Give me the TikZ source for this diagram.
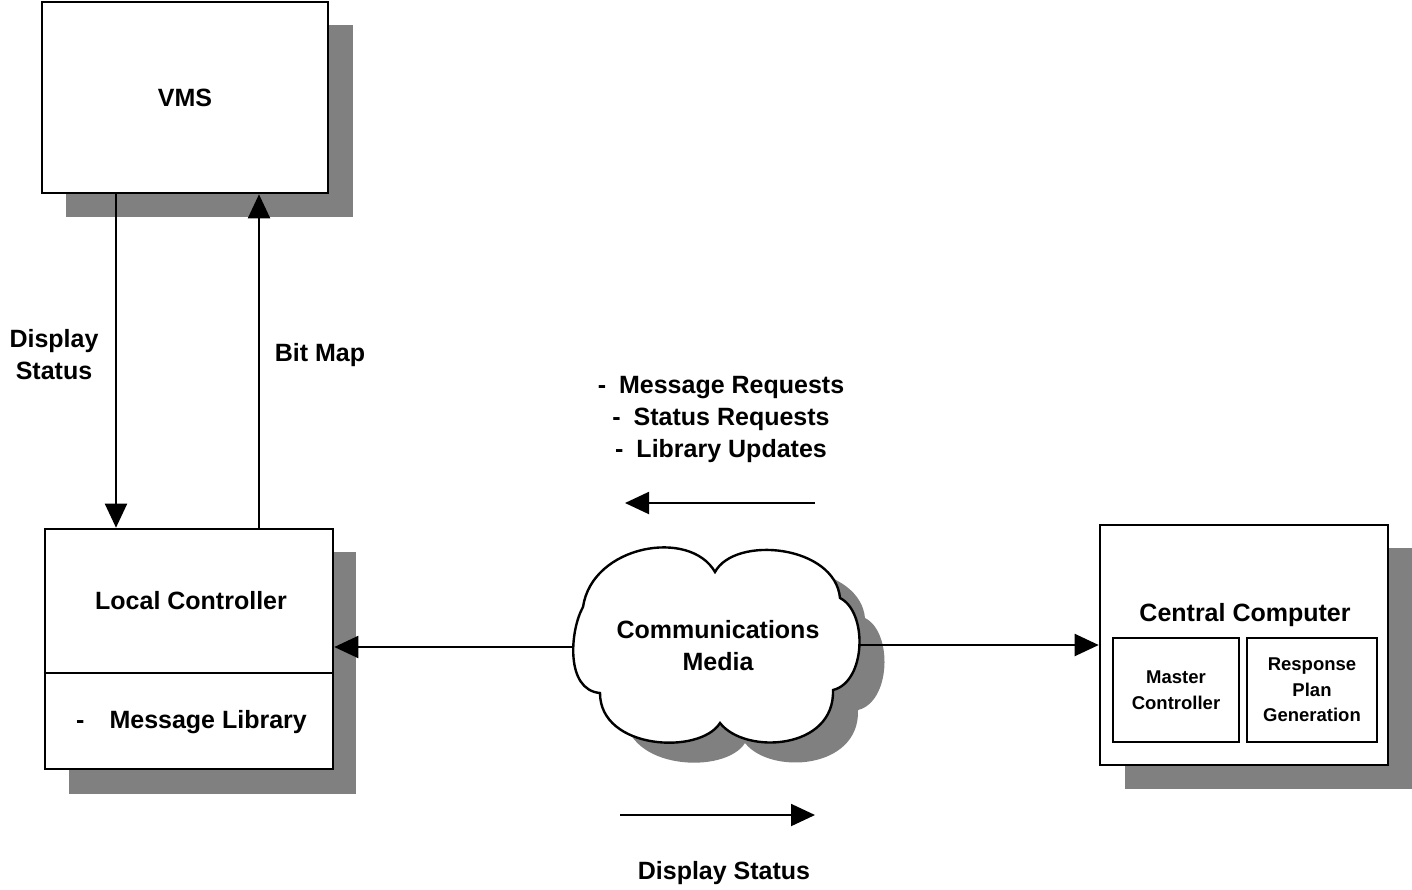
\documentclass[tikz,border=0pt]{standalone}
\usepackage{fontspec}
\setmainfont{Liberation Sans}
\usetikzlibrary{arrows.meta}
\begin{document}
\begin{tikzpicture}[x=1pt,y=-1pt,
  box/.style={draw=black,line width=2.6pt,fill=white,inner sep=0pt},
  innerbox/.style={draw=black,line width=1.8pt,fill=white,inner sep=0pt,
    font=\fontsize{18.5}{25.5}\selectfont\bfseries,align=center},
  shadowbox/.style={fill=black!50,draw=none},
  lbl/.style={font=\fontsize{25}{32}\selectfont\bfseries,align=center,inner sep=0pt},
  conn/.style={line width=2pt,-{Triangle[length=24pt,width=22pt]}},
  cloudpath/.style={insert path={(600,693) .. controls (565,690) and (570,630) .. (583,607)
     .. controls (592,545) and (690,528) .. (715,572)
     .. controls (735,535) and (835,545) .. (840,598)
     .. controls (868,612) and (866,682) .. (833,690)
     .. controls (835,750) and (745,755) .. (720,723)
     .. controls (700,755) and (600,750) .. (600,693) -- cycle}}
]
\useasboundingbox (0,0) rectangle (1412,889);

% shadows
\fill[shadowbox] (66,25) rectangle (353,217);
\fill[shadowbox] (69,552) rectangle (356,794);
\fill[shadowbox] (1125,548) rectangle (1412,789);
\path[fill=black!50,shift={(25,20)},cloudpath];

% VMS
\node[box,lbl,minimum width=286pt,minimum height=191pt] (vms) at (185,97.5) {VMS};

% Local controller
\node[box,minimum width=288pt,minimum height=240pt] (lc) at (189,649) {};
\coordinate (div) at (0,673);
\draw[line width=2.6pt] (lc.west |- div) -- (lc.east |- div);
\node[lbl] (lct) at (191,601) {Local Controller};
\node[lbl,anchor=west] (lib) at (76,722) {-\hspace{25pt}Message Library};

% Central computer
\node[box,minimum width=288pt,minimum height=240pt] (cc) at (1244,645) {};
\node[lbl] (cct) at (1245,615) {Central Computer};
\node[innerbox,minimum width=126pt,minimum height=104pt] (mc) at (1176,690) {Master\\Controller};
\node[innerbox,minimum width=130pt,minimum height=104pt] (rp) at (1312,690) {Response\\Plan\\Generation};

% cloud
\draw[line width=2.4pt,fill=white,cloudpath];
\node[lbl] (cloud) at (718,646) {Communications\\Media};
\coordinate (cll) at (573,647);
\coordinate (clr) at (858,645);

% connectors
\coordinate (xa) at (116,0);
\coordinate (xb) at (259,0);
\draw[conn] (vms.south -| xa) -- (lc.north -| xa);
\draw[conn] (lc.north -| xb) -- (vms.south -| xb);
\draw[conn] (cll) -- (lc.east |- cll);
\draw[conn] (clr) -- (cc.west |- clr);

\coordinate (r1s) at (815,503);
\coordinate (r1e) at (625,503);
\draw[conn] (r1s) -- (r1e);
\coordinate (r2s) at (620,815);
\coordinate (r2e) at (815,815);
\draw[conn] (r2s) -- (r2e);

% labels
\node[lbl] (dsl) at (54,355) {Display\\Status};
\node[lbl] (bm) at (320,355) {Bit Map};
\node[lbl] (req) at (721,419) {-\hspace{13pt}Message Requests\\-\hspace{13pt}Status Requests\\-\hspace{13pt}Library Updates};
\node[lbl] (ds2) at (724,873) {Display Status};
\end{tikzpicture}
\end{document}
